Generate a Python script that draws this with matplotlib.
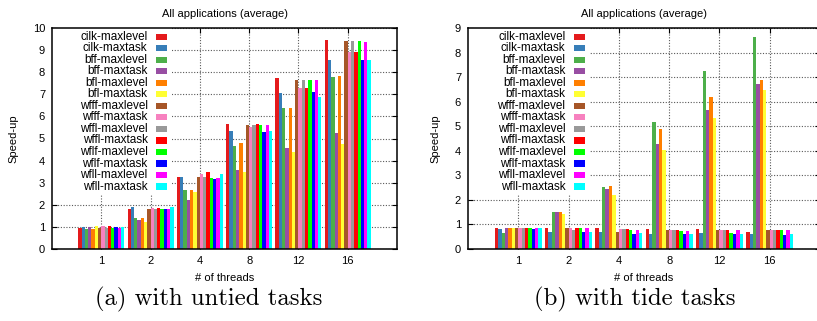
import numpy as np
import matplotlib
matplotlib.use("Agg")
import matplotlib.pyplot as plt
from matplotlib.patches import Rectangle

plt.rcParams['font.family'] = ['Liberation Sans', 'DejaVu Sans']

threads = ['1', '2', '4', '8', '12', '16']
series = ['cilk-maxlevel', 'cilk-maxtask', 'bff-maxlevel', 'bff-maxtask',
          'bfl-maxlevel', 'bfl-maxtask', 'wfff-maxlevel', 'wfff-maxtask',
          'wffl-maxlevel', 'wffl-maxtask', 'wflf-maxlevel', 'wflf-maxtask',
          'wfll-maxlevel', 'wfll-maxtask']
colors = ['#e41a1c', '#377eb8', '#4daf4a', '#984ea3', '#ff7f00', '#ffff33',
          '#a65628', '#f781bf', '#999999', '#ff0000', '#00ff00', '#0000ff',
          '#ff00ff', '#00ffff']

# speed-up per series, one value per thread count (untied tasks)
untied = {
    'cilk-maxlevel': [0.94, 1.80, 3.26, 5.67, 7.72, 9.47],
    'cilk-maxtask':  [1.01, 1.90, 3.26, 5.32, 7.06, 8.55],
    'bff-maxlevel':  [0.90, 1.40, 2.65, 4.66, 6.38, 7.77],
    'bff-maxtask':   [1.00, 1.31, 2.20, 3.56, 4.57, 5.23],
    'bfl-maxlevel':  [0.89, 1.41, 2.65, 4.78, 6.38, 7.83],
    'bfl-maxtask':   [1.02, 1.22, 2.58, 3.50, 4.40, 4.74],
    'wfff-maxlevel': [0.96, 1.81, 3.26, 5.63, 7.63, 9.40],
    'wfff-maxtask':  [1.02, 1.85, 3.40, 5.50, 7.27, 8.90],
    'wffl-maxlevel': [0.95, 1.80, 3.26, 5.63, 7.63, 9.40],
    'wffl-maxtask':  [1.02, 1.85, 3.47, 5.67, 7.27, 8.91],
    'wflf-maxlevel': [0.94, 1.80, 3.21, 5.63, 7.66, 9.40],
    'wflf-maxtask':  [1.00, 1.82, 3.15, 5.31, 7.12, 8.57],
    'wfll-maxlevel': [0.95, 1.79, 3.21, 5.63, 7.65, 9.38],
    'wfll-maxtask':  [1.01, 1.90, 3.38, 5.34, 6.88, 8.54],
}

# tied tasks
tied = {
    'cilk-maxlevel': [0.85, 0.85, 0.85, 0.80, 0.80, 0.69],
    'cilk-maxtask':  [0.81, 0.69, 0.70, 0.62, 0.64, 0.62],
    'bff-maxlevel':  [0.65, 1.52, 2.51, 5.19, 7.25, 8.65],
    'bff-maxtask':   [0.85, 1.49, 2.46, 4.29, 5.66, 6.72],
    'bfl-maxlevel':  [0.85, 1.51, 2.57, 4.89, 6.19, 6.88],
    'bfl-maxtask':   [0.85, 1.44, 2.20, 4.03, 5.35, 6.48],
    'wfff-maxlevel': [0.85, 0.85, 0.70, 0.77, 0.77, 0.77],
    'wfff-maxtask':  [0.85, 0.85, 0.80, 0.77, 0.77, 0.77],
    'wffl-maxlevel': [0.85, 0.77, 0.80, 0.77, 0.77, 0.77],
    'wffl-maxtask':  [0.85, 0.85, 0.80, 0.77, 0.77, 0.77],
    'wflf-maxlevel': [0.85, 0.85, 0.77, 0.73, 0.64, 0.77],
    'wflf-maxtask':  [0.81, 0.70, 0.62, 0.61, 0.61, 0.57],
    'wfll-maxlevel': [0.85, 0.85, 0.77, 0.75, 0.77, 0.77],
    'wfll-maxtask':  [0.84, 0.70, 0.65, 0.61, 0.61, 0.62],
}

FS = 8


def draw_panel(ax, data, ymax, caption, cap_x):
    n = len(series)
    width = 1.0 / (n + 1)
    x = np.arange(1, len(threads) + 1)
    for i, name in enumerate(series):
        ax.bar(x + (i - (n - 1) / 2.0) * width, data[name], width,
               color=colors[i], edgecolor='none', linewidth=0, zorder=2)
    ax.set_xlim(0, len(threads) + 1)
    ax.set_ylim(0, ymax)
    ax.set_xticks(x)
    ax.set_xticklabels(threads, fontsize=FS)
    ax.set_yticks(range(0, ymax + 1))
    ax.tick_params(axis='both', direction='in', length=3.5, width=0.8,
                   top=True, right=True, labelsize=FS, pad=5)
    ax.set_axisbelow(True)
    ax.grid(True, color='0.35', linestyle=(0, (1, 1.5)), linewidth=0.8)
    for s in ax.spines.values():
        s.set_linewidth(1.1)
    ax.set_title('All applications (average)', fontsize=FS, pad=8)
    ax.set_ylabel('Speed-up', fontsize=FS, labelpad=10)
    ax.set_xlabel('# of threads', fontsize=FS, labelpad=5)

    # key drawn gnuplot style: text right-aligned, sample box after it
    ax.add_patch(Rectangle((0, 0.245), 0.348, 0.755, transform=ax.transAxes,
                           facecolor='white', edgecolor='none', zorder=1))
    y0, step = 0.961, 0.0522
    for i, name in enumerate(series):
        y = y0 - i * step
        ax.text(0.277, y, name, transform=ax.transAxes, ha='right',
                va='center', fontsize=FS + 0.5, zorder=3)
        ax.add_patch(Rectangle((0.300, y - 0.014), 0.033, 0.028,
                               transform=ax.transAxes, facecolor=colors[i],
                               edgecolor='none', zorder=3))
    fig.text(cap_x, 0.068, caption, ha='center', va='center',
             fontsize=17.8, family='cmr10')


fig = plt.figure(figsize=(8.17, 3.21), dpi=100)
ax1 = fig.add_axes([52 / 817, 72 / 321, 345 / 817, 221 / 321])
ax2 = fig.add_axes([468 / 817, 72 / 321, 352 / 817, 221 / 321])

draw_panel(ax1, untied, 10, '(a) with untied tasks', 209 / 817)
draw_panel(ax2, tied, 9, '(b) with tide tasks', 635 / 817)

fig.savefig('out.png', dpi=100)
